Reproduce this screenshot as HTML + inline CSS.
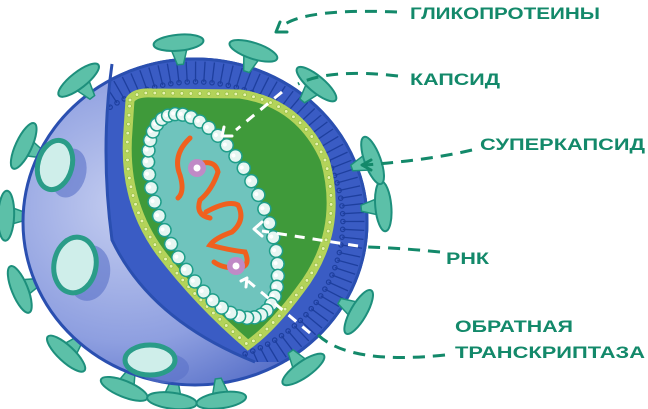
<!DOCTYPE html>
<html><head><meta charset="utf-8"><style>
html,body{margin:0;padding:0;background:#fff;width:648px;height:409px;overflow:hidden}
svg{display:block}
text{font-family:"Liberation Sans",sans-serif;font-weight:bold;fill:#13896a;font-size:17px}
</style></head><body>
<svg id="s" width="648" height="409" viewBox="0 0 648 409" xmlns="http://www.w3.org/2000/svg">
<defs>
<radialGradient id="sph" cx="0.3" cy="0.45" r="0.7">
<stop offset="0" stop-color="#c4cdf0"/><stop offset="0.6" stop-color="#8e9fe0"/><stop offset="1" stop-color="#4e68c4"/>
</radialGradient>
<clipPath id="cut"><path d="M112,64 Q100,150 112,240 Q150,320 255,362 L420,362 L420,0 L112,0 Z"/></clipPath>
</defs>
<g id="spikesBack"></g>
<ellipse cx="195" cy="222" rx="172" ry="163" fill="url(#sph)" stroke="#2a4fb0" stroke-width="3"/>
<g id="faceSpikes"></g>
<g clip-path="url(#cut)">
<ellipse cx="195" cy="222" rx="172" ry="163" fill="#3a5cc4" stroke="#2a4fb0" stroke-width="3"/>
<g id="stripes"></g>
</g>
<path d="M112,64 Q100,150 112,240 Q150,320 255,362" fill="none" stroke="#2a4fb0" stroke-width="3"/>
<path d="M130,100 Q135,92 152,93 L240,94 Q300,103 325,160 Q345,232 300,290 Q272,328 248,345 Q198,302 160,252 Q122,200 128,130 Z" fill="#3f9a3a" stroke="#b3d35a" stroke-width="9"/>
<g id="dots"></g>
<g transform="rotate(-25 213 216)">
<ellipse cx="213" cy="216" rx="50" ry="110" fill="#6fc4bd" stroke="#1f9e8a" stroke-width="2"/>
<g id="beads"></g>
</g>
<path d="M190,138 Q172,155 180,175 Q185,192 178,198 M195,165 Q215,158 218,172 Q212,190 200,200 Q195,215 210,218 M206,212 Q228,200 238,205 Q246,220 232,232 Q215,238 210,245 Q228,250 245,252 Q252,268 236,268 Q222,268 214,262" fill="none" stroke="#f0601e" stroke-width="5" stroke-linecap="round"/>
<circle cx="197" cy="168" r="9" fill="#c08ac6"/><circle cx="197" cy="168" r="3.5" fill="#fff"/>
<circle cx="236" cy="266" r="9" fill="#c08ac6"/><circle cx="236" cy="266" r="3.5" fill="#fff"/>
<g id="spikesFront"></g>
<g fill="none" stroke="#13896a" stroke-width="3" stroke-dasharray="12 8">
<path d="M397,12 Q300,8 280,28"/>
<path d="M398,76 Q330,68 298,84"/>
<path d="M472,150 Q430,160 365,165"/>
<path d="M440,252 Q400,248 368,247"/>
<path d="M445,355 Q350,365 318,335"/>
</g>
<g fill="none" stroke="#fff" stroke-width="3" stroke-dasharray="10 8">
<path d="M282,92 L236,130"/>
<path d="M358,246 L262,231"/>
<path d="M310,333 L248,281"/>
</g>
<g fill="none" stroke-width="3" stroke-linecap="round" stroke-linejoin="round">
<path d="M280,22 L276,32 L287,32" stroke="#13896a"/>
<path d="M371,160 L362,165 L371,170" stroke="#13896a"/>
<path d="M224,127 L222,136 L232,136" stroke="#fff"/>
<path d="M262,222 L254,229 L262,236" stroke="#fff"/>
<path d="M241,281 L247,278 L246,287" stroke="#fff"/>
</g>
<text x="410" y="19" textLength="190" lengthAdjust="spacingAndGlyphs">ГЛИКОПРОТЕИНЫ</text>
<text x="410" y="85" textLength="90" lengthAdjust="spacingAndGlyphs">КАПСИД</text>
<text x="480" y="150" textLength="165" lengthAdjust="spacingAndGlyphs">СУПЕРКАПСИД</text>
<text x="446" y="264" textLength="43" lengthAdjust="spacingAndGlyphs">РНК</text>
<text x="455" y="332" textLength="118" lengthAdjust="spacingAndGlyphs">ОБРАТНАЯ</text>
<text x="455" y="358" textLength="190" lengthAdjust="spacingAndGlyphs">ТРАНСКРИПТАЗА</text>
</svg>
<script>
var NS="http://www.w3.org/2000/svg";
function el(p,t,a){var e=document.createElementNS(NS,t);for(var k in a)e.setAttribute(k,a[k]);document.getElementById(p).appendChild(e);return e;}
var cx=195,cy=222,rx=172,ry=163;
for(var a=-125;a<=80;a+=3.2){var r=a*Math.PI/180,c=Math.cos(r),s=Math.sin(r);
 var x1=cx+rx*0.985*c,y1=cy+ry*0.985*s,x2=cx+rx*0.86*c,y2=cy+ry*0.86*s;
 el("stripes","line",{x1:x1,y1:y1,x2:x2,y2:y2,stroke:"#1e3f9e","stroke-width":1.3});
 el("stripes","circle",{cx:x2,cy:y2,r:2.2,fill:"none",stroke:"#1e3f9e","stroke-width":1.2});}
var pth=document.querySelector('path[stroke="#b3d35a"]');var L=pth.getTotalLength();
for(var d=0;d<L;d+=9){var p=pth.getPointAtLength(d);el("dots","circle",{cx:p.x,cy:p.y,r:1.8,fill:"#e8f3b0",stroke:"#8cb83a","stroke-width":0.6});}
for(var t=0;t<360;t+=8){var r=t*Math.PI/180;var x=213+50*Math.cos(r),y=216+110*Math.sin(r);
 el("beads","circle",{cx:x,cy:y,r:6.5,fill:"#e6f6f2",stroke:"#1f9e8a","stroke-width":1.5});
 el("beads","circle",{cx:x-1.5,cy:y-1.5,r:2,fill:"#fff"});}
function spike(g,a){var r=a*Math.PI/180,c=Math.cos(r),s=Math.sin(r);
 var bx=cx+rx*0.97*c,by=cy+ry*0.97*s,tx=cx+(rx+17)*c,ty=cy+(ry+17)*s;
 var px=-s,py=c;
 el(g,"polygon",{points:(bx+px*3)+","+(by+py*3)+" "+(bx-px*3)+","+(by-py*3)+" "+(tx-px*10)+","+(ty-py*10)+" "+(tx+px*10)+","+(ty+py*10),fill:"#5cc0a8",stroke:"#1d8f7c","stroke-width":1.5});
 el(g,"ellipse",{cx:tx,cy:ty,rx:8,ry:25,fill:"#5cc0a8",stroke:"#1d8f7c","stroke-width":2,transform:"rotate("+a+" "+tx+" "+ty+")"});}
[-95,-72,-128,-50,-155,-5,-178,30,158,55,133,82,112,97,-20].forEach(function(a){spike(a>-130&&a<85?"spikesFront":"spikesBack",a);});
[[55,165,17,25,15],[75,265,21,28,10],[150,360,25,15,0]].forEach(function(f){
 el("faceSpikes","ellipse",{cx:f[0]+14,cy:f[1]+8,rx:f[2],ry:f[3],fill:"#5a72c8",opacity:0.6,transform:"rotate("+f[4]+" "+(f[0]+14)+" "+(f[1]+8)+")"});
 el("faceSpikes","ellipse",{cx:f[0],cy:f[1],rx:f[2],ry:f[3],fill:"#cfeeea",stroke:"#2a9c88","stroke-width":5,transform:"rotate("+f[4]+" "+f[0]+" "+f[1]+")"});});
</script>
</body></html>
